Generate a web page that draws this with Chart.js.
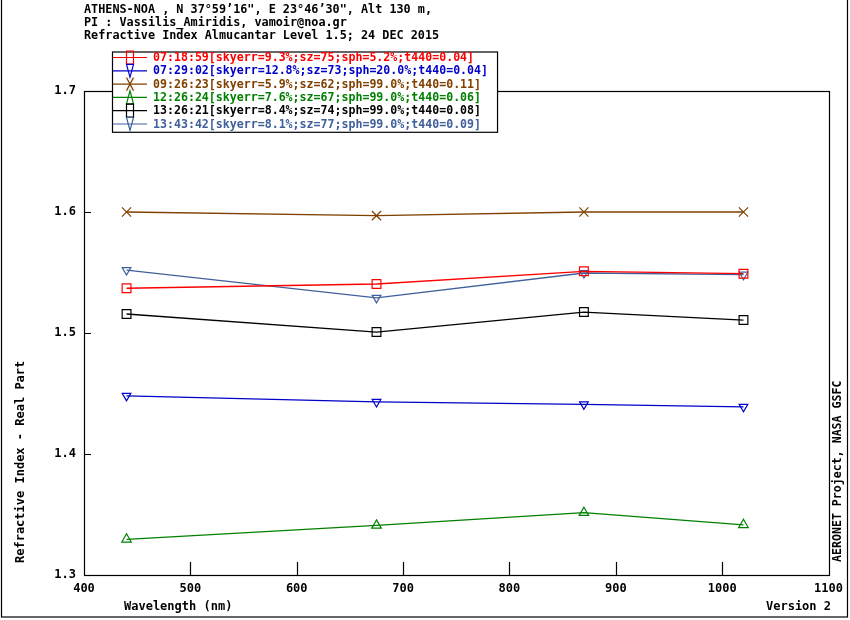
<!DOCTYPE html>
<html>
<head>
<meta charset="utf-8">
<script src="https://cdn.jsdelivr.net/npm/chart.js@4.4.1/dist/chart.umd.min.js"></script>
<style>
  html, body { margin: 0; padding: 0; background: #fff; }
  #wrap { width: 850px; height: 620px; }
</style>
</head>
<body>
<div id="wrap"><canvas id="myChart" width="850" height="620"></canvas></div>
<script>
'use strict';

const wavelengths = [440, 675, 870, 1020];

const seriesLabels = [
    '07:18:59[skyerr=9.3%;sz=75;sph=5.2%;t440=0.04]',
    '07:29:02[skyerr=12.8%;sz=73;sph=20.0%;t440=0.04]',
    '09:26:23[skyerr=5.9%;sz=62;sph=99.0%;t440=0.11]',
    '12:26:24[skyerr=7.6%;sz=67;sph=99.0%;t440=0.06]',
    '13:26:21[skyerr=8.4%;sz=74;sph=99.0%;t440=0.08]',
    '13:43:42[skyerr=8.1%;sz=77;sph=99.0%;t440=0.09]',
];

const n0718 = [1.537, 1.5405, 1.551, 1.549];
const n0729 = [1.448, 1.443, 1.441, 1.439];
const n0926 = [1.600, 1.597, 1.600, 1.600];
const n1226 = [1.3295, 1.341, 1.3515, 1.3415];
const n1326 = [1.5157, 1.5008, 1.5173, 1.5107];
const n1343 = [1.552, 1.529, 1.5496, 1.5482];

const yTicks = [1.3, 1.4, 1.5, 1.6, 1.7];
const xTicks = [400, 500, 600, 700, 800, 900, 1000, 1100];

const titleLines = [
    'ATHENS-NOA , N 37\u00B059\u201916", E 23\u00B046\u201930", Alt 130 m,',
    'PI : Vassilis_Amiridis, vamoir@noa.gr',
    'Refractive Index Almucantar Level 1.5; 24 DEC 2015',
];

const FONT = '"DejaVu Sans Mono", "Liberation Mono", monospace';

const styles = [
    { color: '#ff0000', point: 'rect', rot: 0, r: 6.2 },
    { color: '#0000c8', point: 'triangle', rot: 180, r: 5 },
    { color: '#804000', point: 'crossRot', rot: 0, r: 6.5 },
    { color: '#008000', point: 'triangle', rot: 0, r: 5.5 },
    { color: '#000000', point: 'rect', rot: 0, r: 6.2 },
    { color: '#40609c', point: 'triangle', rot: 180, r: 5 },
];

const allSeries = [n0718, n0729, n0926, n1226, n1326, n1343];

const datasets = allSeries.map((vals, i) => ({
    label: seriesLabels[i],
    data: wavelengths.map((w, k) => ({ x: w, y: vals[k] })),
    showLine: true,
    borderColor: styles[i].color,
    backgroundColor: 'rgba(0,0,0,0)',
    borderWidth: 1.3,
    pointStyle: styles[i].point,
    pointRotation: styles[i].rot,
    pointRadius: styles[i].r,
    pointBorderColor: styles[i].color,
    pointBackgroundColor: 'rgba(0,0,0,0)',
    pointBorderWidth: 1.2,
    tension: 0,
}));

// legend marker, stretched vertically and centred on the legend line
function legendMarker(ctx, style, x, y) {
    const hw = 3.5, hh = 6.5;
    ctx.save();
    ctx.strokeStyle = style.color;
    ctx.lineWidth = 1.2;
    ctx.beginPath();
    if (style.point === 'rect') {
        ctx.rect(x - hw, y - hh, hw * 2, hh * 2);
    } else if (style.point === 'crossRot') {
        ctx.moveTo(x - hw, y - hh); ctx.lineTo(x + hw, y + hh);
        ctx.moveTo(x + hw, y - hh); ctx.lineTo(x - hw, y + hh);
    } else if (style.rot === 180) {
        ctx.moveTo(x - hw, y - hh); ctx.lineTo(x + hw, y - hh); ctx.lineTo(x, y + hh); ctx.closePath();
    } else {
        ctx.moveTo(x - hw, y + hh); ctx.lineTo(x + hw, y + hh); ctx.lineTo(x, y - hh); ctx.closePath();
    }
    ctx.stroke();
    ctx.restore();
}

const decorations = {
    id: 'decorations',
    beforeDraw(chart) {
        const c = chart.ctx;
        c.save();
        c.fillStyle = '#fff';
        c.fillRect(0, 0, chart.width, chart.height);
        c.restore();
    },
    afterDatasetsDraw(chart) {
        const c = chart.ctx;
        const a = chart.chartArea;
        const xs = chart.scales.x;
        const ys = chart.scales.y;
        c.save();
        c.strokeStyle = '#000';
        c.lineWidth = 1.2;

        // plot box
        c.strokeRect(Math.round(a.left) + 0.5, Math.round(a.top) + 0.5,
            Math.round(a.right - a.left), Math.round(a.bottom - a.top));

        // inward ticks
        c.beginPath();
        xTicks.slice(1, -1).forEach(v => {
            const px = Math.round(xs.getPixelForValue(v)) + 0.5;
            c.moveTo(px, a.bottom); c.lineTo(px, a.bottom - 13);
        });
        yTicks.slice(1, -1).forEach(v => {
            const py = Math.round(ys.getPixelForValue(v)) + 0.5;
            c.moveTo(a.left, py); c.lineTo(a.left + 7, py);
        });
        c.stroke();

        // outer frame
        c.strokeRect(1.5, -1, chart.width - 4, chart.height - 2);

        // titles
        c.fillStyle = '#000';
        c.font = 'bold 11.8px ' + FONT;
        c.textBaseline = 'middle';
        c.textAlign = 'left';
        titleLines.forEach((t, i) => c.fillText(t, 84, 9.5 + i * 13.2));

        // axis titles
        c.font = 'bold 12px ' + FONT;
        c.fillText('Wavelength (nm)', 124, 607);
        c.textAlign = 'right';
        c.fillText('Version 2', 831, 607);

        c.save();
        c.translate(21, 563);
        c.rotate(-Math.PI / 2);
        c.textAlign = 'left';
        c.fillText('Refractive Index - Real Part', 0, 0);
        c.restore();

        c.save();
        c.translate(838, 562);
        c.rotate(-Math.PI / 2);
        c.textAlign = 'left';
        c.font = 'bold 11.6px ' + FONT;
        c.fillText('AERONET Project, NASA GSFC', 0, 0);
        c.restore();

        // legend
        c.font = 'bold 11.6px ' + FONT;
        c.textAlign = 'left';
        let maxW = 0;
        chart.data.datasets.forEach(ds => { maxW = Math.max(maxW, c.measureText(ds.label).width); });
        const lx = 112, ly = 51.5, rowH = 13.3;
        const boxW = 153 - lx + maxW + 9;
        const boxH = rowH * chart.data.datasets.length + 0.5;
        c.fillStyle = '#fff';
        c.fillRect(lx, ly, boxW, boxH);
        c.strokeStyle = '#000';
        c.strokeRect(lx + 0.5, ly + 0.5, boxW, boxH);
        chart.data.datasets.forEach((ds, i) => {
            const y = ly + 6 + i * rowH;
            c.strokeStyle = styles[i].color;
            c.lineWidth = 1.2;
            c.beginPath();
            c.moveTo(lx + 1, y); c.lineTo(147, y);
            c.stroke();
            legendMarker(c, styles[i], 130, y);
            c.fillStyle = styles[i].color;
            c.fillText(ds.label, 153, y + 0.5);
        });
        c.restore();
    },
};

const myChart = new Chart(document.getElementById('myChart'), {
    type: 'scatter',
    data: { datasets: datasets },
    options: {
        responsive: false,
        animation: false,
        events: [],
        layout: { padding: { left: 0, right: 21, top: 91, bottom: 0 } },
        plugins: {
            legend: { display: false },
            tooltip: { enabled: false },
            title: { display: false },
        },
        scales: {
            x: {
                type: 'linear',
                min: 400,
                max: 1100,
                afterFit: (axis) => { axis.height = 45; },
                afterBuildTicks: (axis) => { axis.ticks = xTicks.map(v => ({ value: v })); },
                grid: { display: false, drawTicks: false },
                border: { display: false },
                ticks: {
                    padding: 7,
                    color: '#000',
                    font: { family: FONT, size: 12, weight: 'bold' },
                    maxRotation: 0,
                    autoSkip: false,
                    callback: (v) => String(v),
                },
            },
            y: {
                type: 'linear',
                min: 1.3,
                max: 1.7,
                afterFit: (axis) => { axis.width = 84; },
                afterBuildTicks: (axis) => { axis.ticks = yTicks.map(v => ({ value: v })); },
                grid: { display: false, drawTicks: false },
                border: { display: false },
                ticks: {
                    padding: 8,
                    color: '#000',
                    font: { family: FONT, size: 12, weight: 'bold' },
                    autoSkip: false,
                    callback: (v) => Number(v).toFixed(1),
                },
            },
        },
    },
    plugins: [decorations],
});
</script>
</body>
</html>
